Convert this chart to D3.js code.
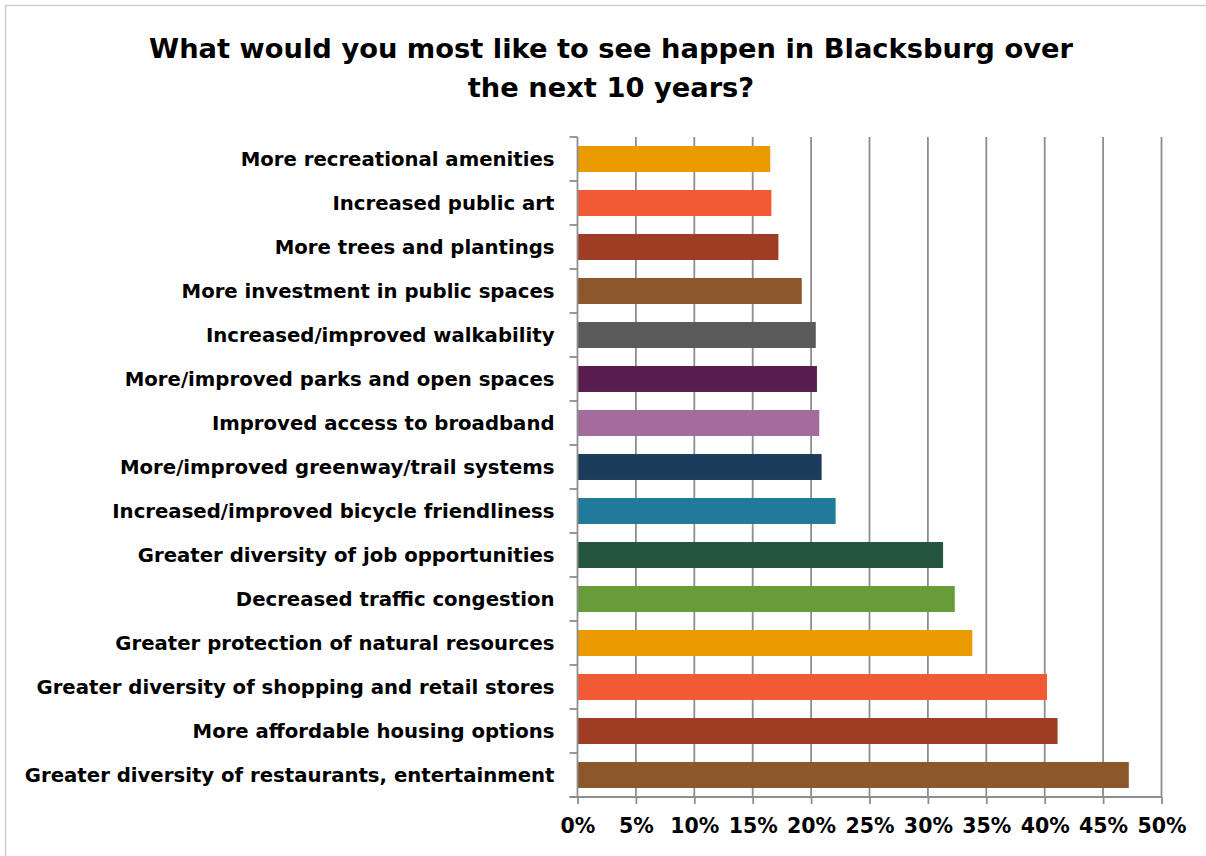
<!DOCTYPE html>
<html>
<head>
<meta charset="utf-8">
<script src="https://cdn.jsdelivr.net/npm/d3@7"></script>
<style>
  html, body { margin: 0; padding: 0; background: #fff; }
  svg { display: block; }
  text { font-family: "DejaVu Sans", sans-serif; font-weight: bold; fill: #000; }
</style>
</head>
<body>
<svg id="chart" width="1206" height="856"></svg>
<script>
// Survey answers, top to bottom as listed on the chart
const categories = [
  "More recreational amenities",
  "Increased public art",
  "More trees and plantings",
  "More investment in public spaces",
  "Increased/improved walkability",
  "More/improved parks and open spaces",
  "Improved access to broadband",
  "More/improved greenway/trail systems",
  "Increased/improved bicycle friendliness",
  "Greater diversity of job opportunities",
  "Decreased traffic congestion",
  "Greater protection of natural resources",
  "Greater diversity of shopping and retail stores",
  "More affordable housing options",
  "Greater diversity of restaurants, entertainment"
];

// Share of respondents (%)
const shares = [16.5, 16.6, 17.2, 19.2, 20.4, 20.5, 20.7, 20.9, 22.1, 31.3, 32.3, 33.8, 40.2, 41.1, 47.2];

const barColors = [
  "#EB9B00", "#F15A35", "#9E3C24", "#8B572B", "#5A5A5A",
  "#591C4F", "#A46C9C", "#1C3C5C", "#1F7B99", "#23553F",
  "#679C39", "#EB9B00", "#F15A35", "#9E3C24", "#8B572B"
];

const tickValues = [0, 5, 10, 15, 20, 25, 30, 35, 40, 45, 50];
const titleLines = ["What would you most like to see happen in Blacksburg over", "the next 10 years?"];

const svg = d3.select("#chart");
const plot = { left: 577.5, right: 1161.5, top: 137, bottom: 797 };

// chart frame
svg.append("rect")
  .attr("x", 5.5).attr("y", 5.5)
  .attr("width", 1220).attr("height", 870)
  .attr("fill", "#fff")
  .attr("stroke", "#d0d0d0").attr("stroke-width", 1.5);

const x = d3.scaleLinear().domain([0, 50]).range([plot.left, plot.right]);
const y = d3.scaleBand().domain(categories)
  .range([plot.top, plot.bottom])
  .paddingInner(0.41).paddingOuter(0.205);

const gridColor = "#8e8e8e";

// vertical gridlines
svg.append("g").selectAll("line")
  .data(tickValues.slice(1))
  .join("line")
  .attr("x1", d => x(d)).attr("x2", d => x(d))
  .attr("y1", plot.top).attr("y2", plot.bottom)
  .attr("stroke", gridColor).attr("stroke-width", 1.8);

// bars
svg.append("g").selectAll("rect")
  .data(categories)
  .join("rect")
  .attr("x", x(0))
  .attr("y", d => y(d))
  .attr("width", (d, i) => x(shares[i]) - x(0))
  .attr("height", y.bandwidth())
  .attr("fill", (d, i) => barColors[i]);

// x axis
const xAxis = svg.append("g")
  .attr("transform", `translate(0,${plot.bottom})`)
  .call(d3.axisBottom(x).tickValues(tickValues).tickFormat(d => d + "%").tickSizeInner(7).tickSizeOuter(0).tickPadding(14));
xAxis.select(".domain").attr("stroke", gridColor).attr("stroke-width", 1.8)
  .attr("d", `M${plot.left - 8},0H${plot.right}`);
xAxis.selectAll(".tick line").attr("stroke", gridColor).attr("stroke-width", 1.8);
xAxis.selectAll(".tick text")
  .attr("font-size", 20.5).attr("font-family", "DejaVu Sans").attr("font-weight", "bold")
  .attr("fill", "#000").attr("dy", "0.71em");

// y axis line with tick marks at category boundaries
const yAxis = svg.append("g");
yAxis.append("line")
  .attr("x1", plot.left).attr("x2", plot.left)
  .attr("y1", plot.top).attr("y2", plot.bottom)
  .attr("stroke", gridColor).attr("stroke-width", 1.8);
const boundaries = categories.map(c => y(c) - y.step() * y.paddingInner() / 2).concat([plot.bottom]);
yAxis.selectAll("line.tk")
  .data(boundaries)
  .join("line").attr("class", "tk")
  .attr("x1", plot.left - 8).attr("x2", plot.left)
  .attr("y1", d => d).attr("y2", d => d)
  .attr("stroke", gridColor).attr("stroke-width", 1.8);

// category labels
svg.append("g").selectAll("text")
  .data(categories)
  .join("text")
  .attr("x", plot.left - 23)
  .attr("y", d => y(d) + y.bandwidth() / 2)
  .attr("dy", "0.36em")
  .attr("text-anchor", "end")
  .attr("font-size", 19.7)
  .text(d => d);

// title
svg.append("g").selectAll("text")
  .data(titleLines)
  .join("text")
  .attr("x", 611)
  .attr("y", (d, i) => 58 + i * 39)
  .attr("text-anchor", "middle")
  .attr("font-size", 27.3)
  .text(d => d);
</script>
</body>
</html>
